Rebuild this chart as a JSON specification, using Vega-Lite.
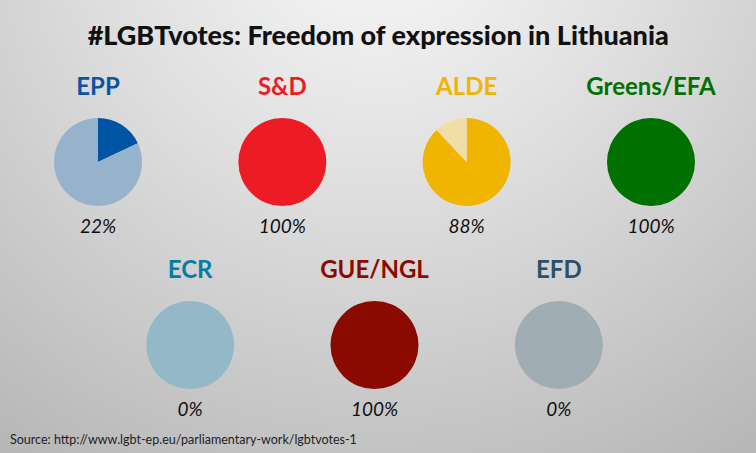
{
  "$schema": "https://vega.github.io/schema/vega-lite/v6.json",
  "width": 756,
  "height": 453,
  "autosize": {"type": "fit", "contains": "padding"},
  "padding": 0,
  "background": "#c8c8c8",
  "view": {
    "stroke": null,
    "fill": {
      "gradient": "radial",
      "x1": 0.5, "y1": 0.08, "r1": 0,
      "x2": 0.5, "y2": 0.08, "r2": 0.85,
      "stops": [
        {"offset": 0, "color": "#fafafa"},
        {"offset": 0.45, "color": "#dedede"},
        {"offset": 1, "color": "#b8b8b8"}
      ]
    }
  },
  "datasets": {
    "slices": [
      {"party": "EPP", "col": 1, "row": 1, "slice": "EPP for", "start": 0, "end": 0.18},
      {"party": "EPP", "col": 1, "row": 1, "slice": "EPP other", "start": 0.18, "end": 1},
      {"party": "S&D", "col": 2, "row": 1, "slice": "S&D for", "start": 0, "end": 1},
      {"party": "ALDE", "col": 3, "row": 1, "slice": "ALDE for", "start": 0, "end": 0.88},
      {"party": "ALDE", "col": 3, "row": 1, "slice": "ALDE other", "start": 0.88, "end": 1},
      {"party": "Greens/EFA", "col": 4, "row": 1, "slice": "Greens/EFA for", "start": 0, "end": 1},
      {"party": "ECR", "col": 1.5, "row": 2, "slice": "ECR other", "start": 0, "end": 1},
      {"party": "GUE/NGL", "col": 2.5, "row": 2, "slice": "GUE/NGL for", "start": 0, "end": 1},
      {"party": "EFD", "col": 3.5, "row": 2, "slice": "EFD other", "start": 0, "end": 1}
    ],
    "parties": [
      {"party": "EPP", "col": 1, "row": 1, "pct": "22%"},
      {"party": "S&D", "col": 2, "row": 1, "pct": "100%"},
      {"party": "ALDE", "col": 3, "row": 1, "pct": "88%"},
      {"party": "Greens/EFA", "col": 4, "row": 1, "pct": "100%"},
      {"party": "ECR", "col": 1.5, "row": 2, "pct": "0%"},
      {"party": "GUE/NGL", "col": 2.5, "row": 2, "pct": "100%"},
      {"party": "EFD", "col": 3.5, "row": 2, "pct": "0%"}
    ],
    "title": [
      {"col": 2.52, "row": 0.317, "t": "#LGBTvotes: Freedom of expression in Lithuania"}
    ],
    "source": [
      {"col": 0.5226, "row": 2.519, "t": "Source: http://www.lgbt-ep.eu/parliamentary-work/lgbtvotes-1"}
    ]
  },
  "encoding": {
    "x": {"field": "col", "type": "quantitative", "axis": null,
          "scale": {"domain": [0.4683, 4.5697], "zero": false, "nice": false}},
    "y": {"field": "row", "type": "quantitative", "axis": null,
          "scale": {"domain": [0.1148, 2.590], "zero": false, "nice": false, "reverse": true}}
  },
  "layer": [
    {
      "data": {"name": "slices"},
      "mark": {"type": "arc", "radius": 44, "stroke": null},
      "encoding": {
        "theta": {"field": "start", "type": "quantitative", "stack": false,
                  "scale": {"domain": [0, 1], "range": [0, 6.283185307]}},
        "theta2": {"field": "end"},
        "color": {"field": "slice", "type": "nominal", "legend": null,
                  "scale": {
                    "domain": ["EPP for", "EPP other", "S&D for", "ALDE for", "ALDE other", "Greens/EFA for", "ECR other", "GUE/NGL for", "EFD other"],
                    "range": ["#0054a4", "#97b3cc", "#ed1c24", "#efb500", "#f1dea6", "#007000", "#93b8c8", "#8b0a00", "#a1adb5"]
                  }}
      }
    },
    {
      "data": {"name": "parties"},
      "mark": {"type": "text", "font": "Lato", "fontWeight": "bold", "fontSize": 24, "dy": -74, "baseline": "middle", "align": "center"},
      "encoding": {
        "text": {"field": "party"},
        "color": {"field": "party", "type": "nominal", "legend": null,
                  "scale": {
                    "domain": ["EPP", "S&D", "ALDE", "Greens/EFA", "ECR", "GUE/NGL", "EFD"],
                    "range": ["#0a55a3", "#ed1c24", "#efb500", "#007000", "#0a7ba4", "#8b0a00", "#2c4f6b"]
                  }}
      }
    },
    {
      "data": {"name": "parties"},
      "mark": {"type": "text", "font": "Lato", "fontStyle": "italic", "fontSize": 19, "dy": 65, "baseline": "middle", "align": "center", "color": "#111111"},
      "encoding": {
        "text": {"field": "pct"}
      }
    },
    {
      "data": {"name": "title"},
      "mark": {"type": "text", "font": "Lato", "fontWeight": 900, "fontSize": 27, "baseline": "middle", "align": "center", "color": "#111111"},
      "encoding": {
        "text": {"field": "t"}
      }
    },
    {
      "data": {"name": "source"},
      "mark": {"type": "text", "font": "Lato", "fontSize": 12.5, "baseline": "middle", "align": "left", "color": "#222222"},
      "encoding": {
        "text": {"field": "t"}
      }
    }
  ],
  "resolve": {"scale": {"color": "independent"}}
}
